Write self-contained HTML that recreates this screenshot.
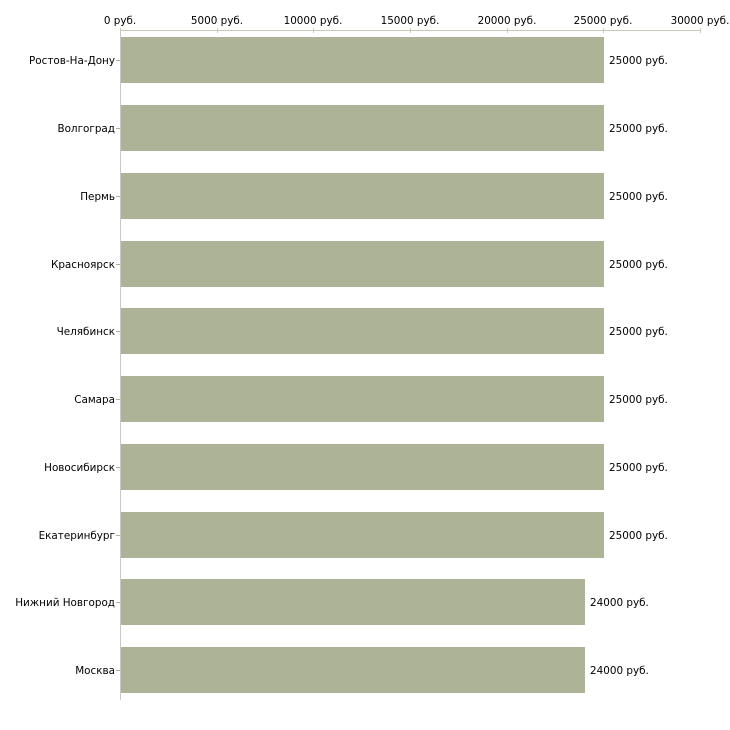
<!DOCTYPE html>
<html><head><meta charset="utf-8"><style>body{margin:0;background:#fff}svg{display:block}text{font-family:"DejaVu Sans",sans-serif;font-size:10.4px;fill:#000}</style></head><body>
<svg width="730" height="730" xmlns="http://www.w3.org/2000/svg">
<line x1="120" y1="30.5" x2="700" y2="30.5" stroke="#c8c8b4" stroke-width="1"/>
<g stroke="#c8c8b4"><line x1="120.5" y1="28" x2="120.5" y2="33"/><line x1="217.5" y1="28" x2="217.5" y2="33"/><line x1="313.5" y1="28" x2="313.5" y2="33"/><line x1="410.5" y1="28" x2="410.5" y2="33"/><line x1="507.5" y1="28" x2="507.5" y2="33"/><line x1="603.5" y1="28" x2="603.5" y2="33"/><line x1="700.5" y1="28" x2="700.5" y2="33"/></g>
<g text-anchor="middle"><text x="120" y="24">0 руб.</text><text x="217" y="24">5000 руб.</text><text x="313" y="24">10000 руб.</text><text x="410" y="24">15000 руб.</text><text x="507" y="24">20000 руб.</text><text x="603" y="24">25000 руб.</text><text x="700" y="24">30000 руб.</text></g>
<line x1="120.5" y1="30" x2="120.5" y2="700" stroke="#c8c8c8"/>
<g fill="#adb396">
<rect x="121" y="37" width="483" height="46"/><rect x="121" y="105" width="483" height="46"/><rect x="121" y="173" width="483" height="46"/><rect x="121" y="241" width="483" height="46"/><rect x="121" y="308" width="483" height="46"/><rect x="121" y="376" width="483" height="46"/><rect x="121" y="444" width="483" height="46"/><rect x="121" y="512" width="483" height="46"/><rect x="121" y="579" width="464" height="46"/><rect x="121" y="647" width="464" height="46"/>
</g>
<g stroke="#adb396"><line x1="116" y1="60.5" x2="120" y2="60.5"/><line x1="116" y1="128.5" x2="120" y2="128.5"/><line x1="116" y1="196.5" x2="120" y2="196.5"/><line x1="116" y1="264.5" x2="120" y2="264.5"/><line x1="116" y1="331.5" x2="120" y2="331.5"/><line x1="116" y1="399.5" x2="120" y2="399.5"/><line x1="116" y1="467.5" x2="120" y2="467.5"/><line x1="116" y1="535.5" x2="120" y2="535.5"/><line x1="116" y1="602.5" x2="120" y2="602.5"/><line x1="116" y1="670.5" x2="120" y2="670.5"/></g>
<g text-anchor="end">
<text x="115" y="64">Ростов-На-Дону</text><text x="115" y="132">Волгоград</text><text x="115" y="200">Пермь</text><text x="115" y="268">Красноярск</text><text x="115" y="335">Челябинск</text><text x="115" y="403">Самара</text><text x="115" y="471">Новосибирск</text><text x="115" y="539">Екатеринбург</text><text x="115" y="606">Нижний Новгород</text><text x="115" y="674">Москва</text>
</g>
<g>
<text x="609" y="64">25000 руб.</text><text x="609" y="132">25000 руб.</text><text x="609" y="200">25000 руб.</text><text x="609" y="268">25000 руб.</text><text x="609" y="335">25000 руб.</text><text x="609" y="403">25000 руб.</text><text x="609" y="471">25000 руб.</text><text x="609" y="539">25000 руб.</text><text x="590" y="606">24000 руб.</text><text x="590" y="674">24000 руб.</text>
</g>
</svg>
</body></html>
